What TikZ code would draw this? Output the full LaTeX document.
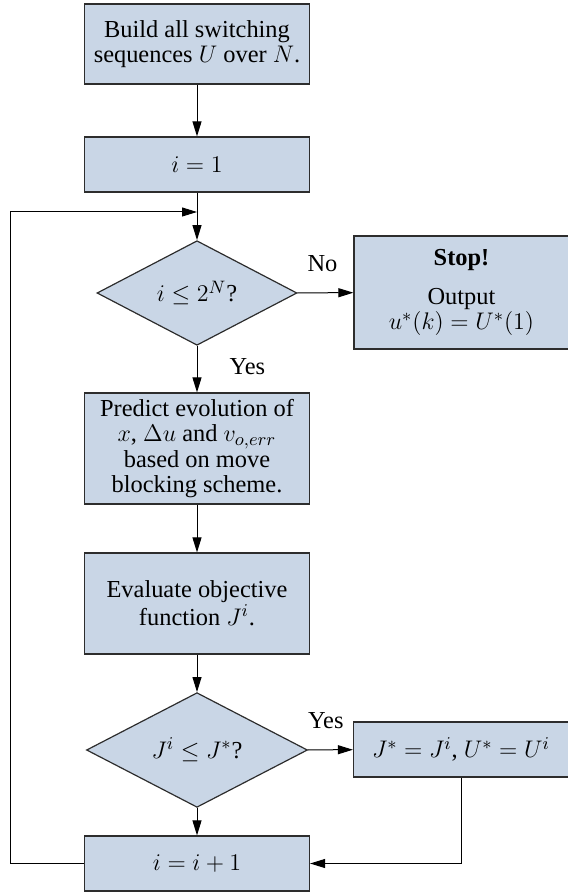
\documentclass[tikz,border=0pt]{standalone}
\usepackage{fontspec}
\setmainfont{Liberation Serif}
\usetikzlibrary{shapes.geometric,arrows.meta}
\definecolor{boxfill}{RGB}{201,214,230}
\definecolor{boxline}{RGB}{45,45,45}
\begin{document}
\fontsize{12.2pt}{12.7pt}\selectfont
\begin{tikzpicture}[x=0.5pt, y=-0.5pt,
		block/.style={draw=boxline, fill=boxfill, line width=0.6pt, align=center,
			minimum width=112.5pt, inner sep=2pt},
		decision/.style={draw=boxline, fill=boxfill, line width=0.6pt, diamond,
			inner sep=0pt, align=center},
		flow/.style={line width=0.5pt, -{Triangle[length=7.5pt,width=4.5pt]}},
		link/.style={line width=0.5pt}]
		\useasboundingbox (0,0) rectangle (567,892);
		% Main column of the flowchart
		\node[block, minimum height=40pt] (build) at (197,44)
			{Build all switching\\sequences $U$ over $N$.};
		\node[block, minimum height=27.5pt] (init) at (197,164.5) {$i=1$};
		\node[decision, minimum width=100pt, minimum height=50pt] (cond1) at (197,293)
			{$i\leq 2^N$?};
		\node[block, minimum height=55.5pt] (predict) at (197,448.5)
			{Predict evolution of\\$x$, $\Delta u$ and $v_{o,err}$\\based on move\\blocking scheme.};
		\node[block, minimum height=50.5pt] (eval) at (197,603.5)
			{Evaluate objective\\function $J^i$.};
		\node[decision, minimum width=110.5pt, minimum height=49.5pt] (cond2) at (197,750)
			{$J^i\leq J^*$?};
		\node[block, minimum height=27.5pt] (inc) at (197,863.5) {$i=i+1$};
		% Side boxes
		\node[block, minimum width=107.5pt, minimum height=56.5pt] (stop) at (461.5,292.5)
			{\textbf{Stop!}\\[7pt]Output\\$u^*(k)=U^*(1)$};
		\node[block, minimum width=107.5pt, minimum height=27.5pt] (upd) at (461,749.5)
			{$J^*=J^i$, $U^*=U^i$};
		% Connectors
		\coordinate (merge) at (197,212);
		\coordinate (back) at (10,212);
		\draw[flow] (build) -- (init);
		\draw[flow] (init) -- (cond1);
		\draw[flow] (cond1) -- node[pos=0.45, above=6pt] {No} (stop);
		\draw[flow] (cond1) -- node[pos=0.45, right=12pt] {Yes} (predict);
		\draw[flow] (predict) -- (eval);
		\draw[flow] (eval) -- (cond2);
		\draw[flow] (cond2) -- node[pos=0.4, above=6pt] {Yes} (upd);
		\draw[flow] (cond2) -- (inc);
		\draw[flow] (upd.south) |- (inc.east);
		\draw[link] (inc.west) -| (back);
		\draw[flow] (back) -- (merge);
	\end{tikzpicture}
\end{document}
